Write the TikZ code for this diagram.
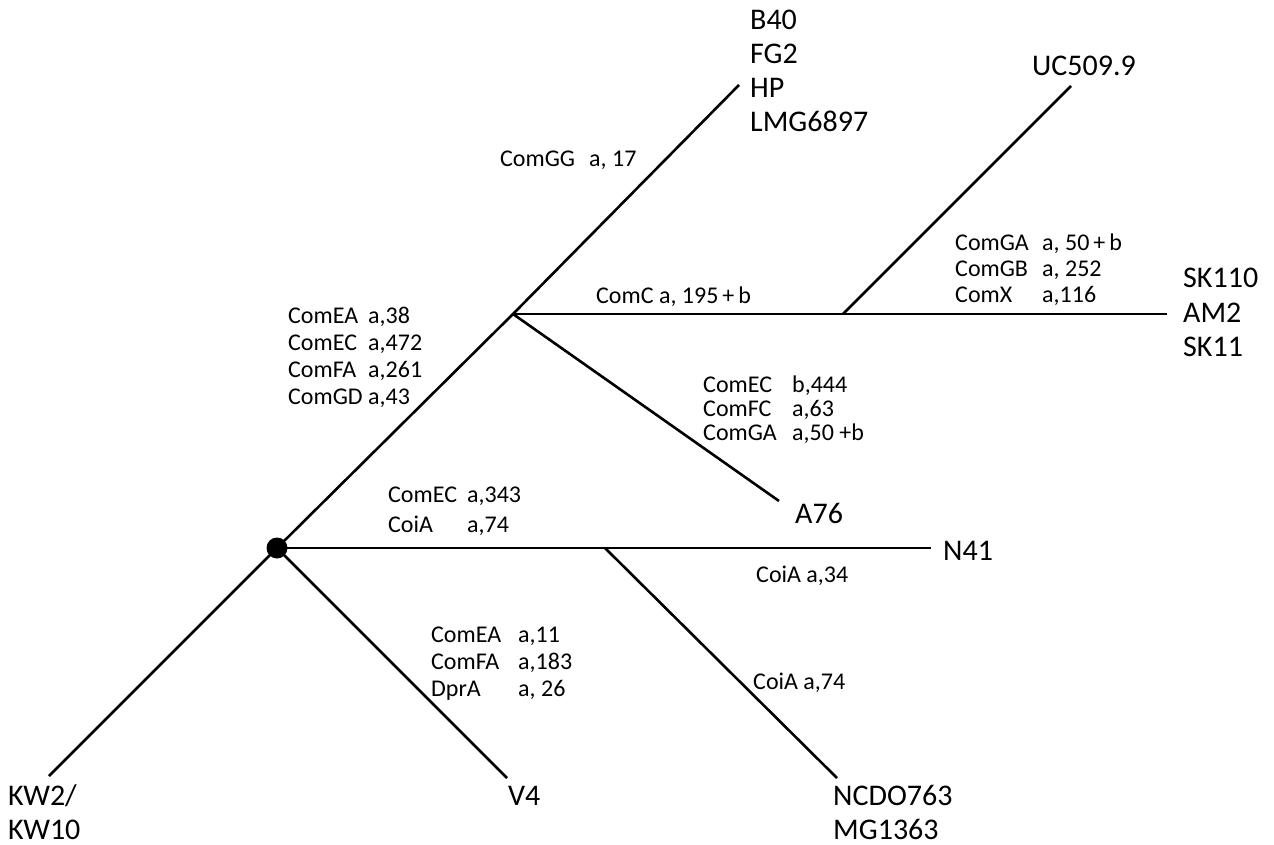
\documentclass[tikz,border=0pt]{standalone}
\usepackage{fontspec}
\setmainfont{Carlito}
\begin{document}
\begin{tikzpicture}[x=1pt,y=-1pt,
  branch/.style={line width=2.6pt},
  lab/.style={inner sep=0pt,anchor=base west},
  small/.style={lab,font=\fontsize{24}{#1}\selectfont},
  small/.default=27,
  big/.style={lab,font=\fontsize{30}{#1}\selectfont},
  big/.default=34]
\useasboundingbox (0,0) rectangle (1274,845);
% branch points
\coordinate (root) at (277,548);
\coordinate (nA) at (513,314);
\coordinate (nB) at (843,314);
\coordinate (nC) at (605,548);
% leaf ends
\coordinate (eTop) at (739,85);
\coordinate (eUC) at (1071,86);
\coordinate (eSK) at (1167,314);
\coordinate (eA) at (779,501);
\coordinate (eN) at (931,548);
\coordinate (eNC) at (837,778);
\coordinate (eV) at (507,778);
\coordinate (eKW) at (49,776);
% tree
\draw[branch] (eKW) -- (root) -- (nA) -- (eTop);
\draw[branch] (nA) -- (nB) -- (eSK);
\draw[branch] (nB) -- (eUC);
\draw[branch] (nA) -- (eA);
\draw[branch] (root) -- (nC) -- (eN);
\draw[branch] (nC) -- (eNC);
\draw[branch] (root) -- (eV);
\fill (root) circle (10.5);
% leaf labels
\node[big] (lTop) at (750,30) {\begin{tabular}[t]{@{}l@{}}B40\\FG2\\HP\\LMG6897\end{tabular}};
\node[big] (lUC) at (1032,76) {UC509.9};
\node[big=35] (lSK) at (1183,287) {\begin{tabular}[t]{@{}l@{}}SK110\\AM2\\SK11\end{tabular}};
\node[big] (lA) at (795,523) {A76};
\node[big] (lN) at (943,560) {N41};
\node[big] (lKW) at (8,805) {KW2/};
\node[big] (lKW2) at (8,839) {KW10};
\node[big] (lV) at (508,805) {V4};
\node[big] (lNC) at (833,805) {NCDO763};
\node[big] (lNC2) at (833,839) {MG1363};
% gene labels
\node[small] (gGG) at (500,167) {\makebox[89pt][l]{ComGG}a, 17};
\node[small] (gMain) at (288,323) {\begin{tabular}[t]{@{}p{80pt}@{}l@{}}ComEA&a,38\\ComEC&a,472\\ComFA&a,261\\ComGD&a,43\end{tabular}};
\node[small] (gC) at (596,303) {ComC a, 195\,+\,b};
\node[small=26] (gSK) at (955,250) {\begin{tabular}[t]{@{}p{87pt}@{}l@{}}ComGA&a, 50\,+\,b\\ComGB&a, 252\\ComX&a,116\end{tabular}};
\node[small=24] (gA) at (703,392) {\begin{tabular}[t]{@{}p{89pt}@{}l@{}}ComEC&b,444\\ComFC&a,63\\ComGA&a,50 +b\end{tabular}};
\node[small=30] (gN) at (388,502) {\begin{tabular}[t]{@{}p{79pt}@{}l@{}}ComEC&a,343\\CoiA&a,74\end{tabular}};
\node[small] (gV) at (431,642) {\begin{tabular}[t]{@{}p{87pt}@{}l@{}}ComEA&a,11\\ComFA&a,183\\DprA&a, 26\end{tabular}};
\node[small] (gN41) at (756,582) {CoiA a,34};
\node[small] (gNC) at (753,689) {CoiA a,74};
\end{tikzpicture}
\end{document}
